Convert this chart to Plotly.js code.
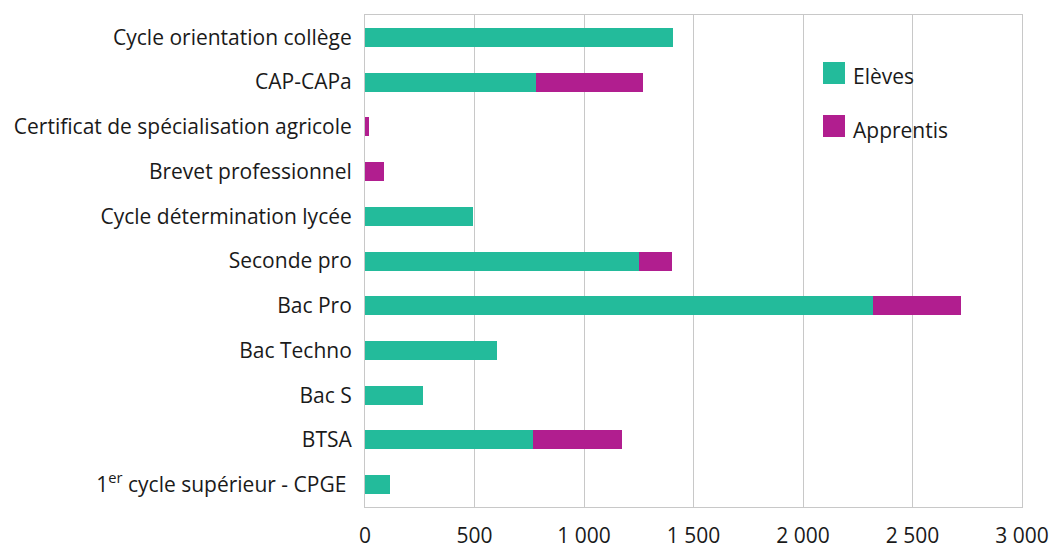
<!DOCTYPE html>
<html>
<head>
<meta charset="utf-8">
<script src="https://cdn.plot.ly/plotly-3.0.1.min.js"></script>
<style>html,body{margin:0;padding:0;background:#fff;}#chart{width:1056px;height:549px;}</style>
</head>
<body>
<div id="chart"></div>
<script>
const categories = [
  "Cycle orientation collège",
  "CAP-CAPa",
  "Certificat de spécialisation agricole",
  "Brevet professionnel",
  "Cycle détermination lycée",
  "Seconde pro",
  "Bac Pro",
  "Bac Techno",
  "Bac S",
  "BTSA",
  "1<sup>er</sup> cycle supérieur - CPGE\u00a0"
];
const eleves    = [1406, 781, 0, 0, 493, 1251, 2320, 603, 265, 767, 114];
const apprentis = [0, 488, 18, 87, 0, 151, 401, 0, 0, 407, 0];
const seriesNames = ["Elèves", "Apprentis"];
const colors = ["#23bb9b", "#b11e8f"];
const xTicks = [0, 500, 1000, 1500, 2000, 2500, 3000];

const font = {family: "Open Sans, sans-serif", size: 21, color: "#1a1a1a"};

const traces = [
  {type: "bar", orientation: "h", name: seriesNames[0], y: categories, x: eleves,
   marker: {color: colors[0]}, hoverinfo: "x+name"},
  {type: "bar", orientation: "h", name: seriesNames[1], y: categories, x: apprentis,
   marker: {color: colors[1]}, hoverinfo: "x+name"}
];

// custom legend (square swatches + labels)
const leg = [
  {y0: 0.8598, y1: 0.9045, ty: 0.876},
  {y0: 0.7520, y1: 0.7967, ty: 0.766}
];
const shapes = leg.map((l, i) => ({
  type: "rect", xref: "paper", yref: "paper",
  x0: 0.6971, x1: 0.7306, y0: l.y0, y1: l.y1,
  fillcolor: colors[i], line: {width: 0}
}));
const annotations = leg.map((l, i) => ({
  xref: "paper", yref: "paper", x: 0.7398, y: l.ty,
  xanchor: "left", yanchor: "middle", showarrow: false,
  text: seriesNames[i], font: font
}));

const layout = {
  width: 1056, height: 549,
  margin: {l: 365, r: 34, t: 15, b: 42},
  barmode: "stack",
  bargap: 0.575,
  showlegend: false,
  separators: ", ",
  paper_bgcolor: "#fff", plot_bgcolor: "#fff",
  font: font,
  xaxis: {
    range: [0, 3000], tickvals: xTicks, tickformat: ",d",
    showgrid: true, gridcolor: "#c8c8c8", gridwidth: 1,
    zeroline: false, showline: true, linecolor: "#c8c8c8", linewidth: 1, mirror: true,
    ticks: "", ticklabelstandoff: 10, tickfont: font, fixedrange: true
  },
  yaxis: {
    type: "category", categoryorder: "array", categoryarray: categories,
    autorange: "reversed",
    showgrid: false, zeroline: false, showline: true, linecolor: "#c8c8c8", linewidth: 1, mirror: true,
    ticks: "", ticklabelstandoff: 8, tickfont: font, fixedrange: true
  },
  shapes: shapes,
  annotations: annotations
};

Plotly.newPlot("chart", traces, layout, {displayModeBar: false, staticPlot: true});
</script>
</body>
</html>
